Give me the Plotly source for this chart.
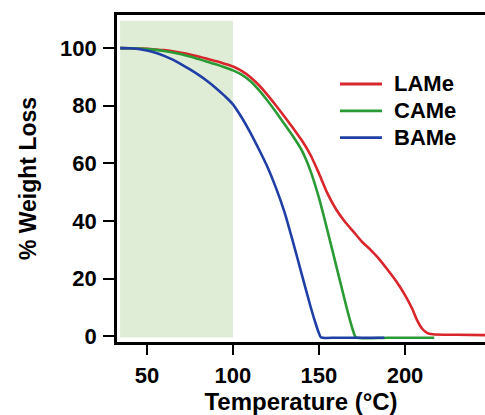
import plotly.graph_objects as go

# ---- data ----
bame_T = [34.5, 40, 45, 50, 55, 60, 65, 70, 75, 80, 85, 90, 95, 100, 105, 110, 115, 120,
          125, 130, 135, 140, 145, 148, 150, 151.2, 160, 170, 180, 188]
bame_W = [100, 99.95, 99.7, 99.2, 98.4, 97.3, 96.0, 94.4, 92.6, 90.7, 88.6, 86.2, 83.5, 80.5,
          76.0, 70.8, 65.0, 58.8, 51.5, 43.0, 32.5, 21.5, 10.5, 4.5, 1.0, -0.4, -0.5, -0.5, -0.5, -0.5]

came_T = [34.5, 40, 45, 50, 55, 60, 65, 70, 75, 80, 85, 90, 95, 100, 105, 110, 115, 120, 125,
          130, 135, 140, 145, 150, 155, 160, 165, 168, 170, 171.5, 190, 217]
came_W = [100, 99.95, 99.85, 99.7, 99.4, 99.0, 98.5, 97.9, 97.1, 96.2, 95.3, 94.4, 93.4, 92.3,
          90.8, 88.6, 85.5, 81.8, 77.8, 73.6, 69.3, 64.5, 57.5, 48.0, 36.5, 24.5, 12.5,
          5.6, 1.6, -0.4, -0.5, -0.5]

lame_T = [34.5, 40, 45, 50, 55, 60, 65, 70, 75, 80, 85, 90, 95, 100, 105, 110, 115, 120, 125,
          130, 135, 140, 145, 150, 155, 160, 165, 170, 175, 180, 185, 190, 195, 200, 204, 207,
          210, 213, 216, 230, 247]
lame_W = [100, 99.95, 99.85, 99.75, 99.55, 99.3, 98.9, 98.4, 97.8, 97.1, 96.3, 95.5, 94.6, 93.6,
          92.1, 90.0, 87.2, 83.8, 80.1, 76.2, 72.2, 68.0, 63.0, 56.5, 49.5, 44.0, 39.8, 36.3,
          32.8, 30.0, 26.8, 23.0, 19.0, 14.3, 9.8, 5.6, 2.6, 1.1, 0.7, 0.5, 0.4]

series_names = ["LAMe", "CAMe", "BAMe"]
series_colors = ["#d8262c", "#2a9a35", "#1f3fa6"]

shade_T = [34.4, 100]     # highlighted temperature window
shade_W = [-0.4, 109.5]

x_ticks = [50, 100, 150, 200]
y_ticks = [0, 20, 40, 60, 80, 100]

FONT = "Liberation Sans, Arial, sans-serif"

fig = go.Figure()
for name, color, T, W in zip(series_names, series_colors,
                             [lame_T, came_T, bame_T], [lame_W, came_W, bame_W]):
    fig.add_trace(go.Scatter(x=T, y=W, mode="lines", name=name, showlegend=False,
                             line=dict(color=color, width=2.6, shape="spline", smoothing=0.7)))

fig.add_shape(type="rect", xref="x", yref="y",
              x0=shade_T[0], x1=shade_T[1], y0=shade_W[0], y1=shade_W[1],
              fillcolor="#dfecd6", line=dict(width=0), layer="below")

# legend drawn as key lines + labels (paper coordinates)
leg_x0, leg_x1, leg_tx = 0.606, 0.720, 0.746
leg_y = [0.789, 0.707, 0.625]
for name, color, yy in zip(series_names, series_colors, leg_y):
    fig.add_shape(type="line", xref="paper", yref="paper", x0=leg_x0, x1=leg_x1,
                  y0=yy, y1=yy, line=dict(color=color, width=2.8))
    fig.add_annotation(xref="paper", yref="paper", x=leg_tx, y=yy, text=name,
                       showarrow=False, xanchor="left", yanchor="middle",
                       font=dict(family=FONT, size=22, color="black", weight="bold"))

fig.update_layout(
    width=485, height=415,
    margin=dict(l=117, r=0, t=15, b=73, pad=0),
    paper_bgcolor="white", plot_bgcolor="white",
    font=dict(family=FONT, size=21, color="black", weight="bold"),
    showlegend=False,
    xaxis=dict(range=[32.6, 246.5], tickvals=x_ticks, ticks="outside", ticklen=10,
               tickwidth=2.2, tickcolor="black", showline=True, linewidth=2.6,
               linecolor="black", mirror=True, showgrid=False, zeroline=False,
               ticklabelstandoff=2,
               tickfont=dict(family=FONT, size=22, color="black", weight="bold"),
               title=dict(text="Temperature (°C)", standoff=4,
                          font=dict(family=FONT, size=24, color="black", weight="bold"))),
    yaxis=dict(range=[-2, 111.5], tickvals=y_ticks, ticks="outside", ticklen=11,
               tickwidth=2.2, tickcolor="black", showline=True, linewidth=2.6,
               linecolor="black", mirror=False, showgrid=False, zeroline=False,
               ticklabelstandoff=2,
               tickfont=dict(family=FONT, size=22, color="black", weight="bold"),
               title=dict(text="% Weight Loss", standoff=18,
                          font=dict(family=FONT, size=23, color="black", weight="bold"))),
)

fig.write_html("out.html")
